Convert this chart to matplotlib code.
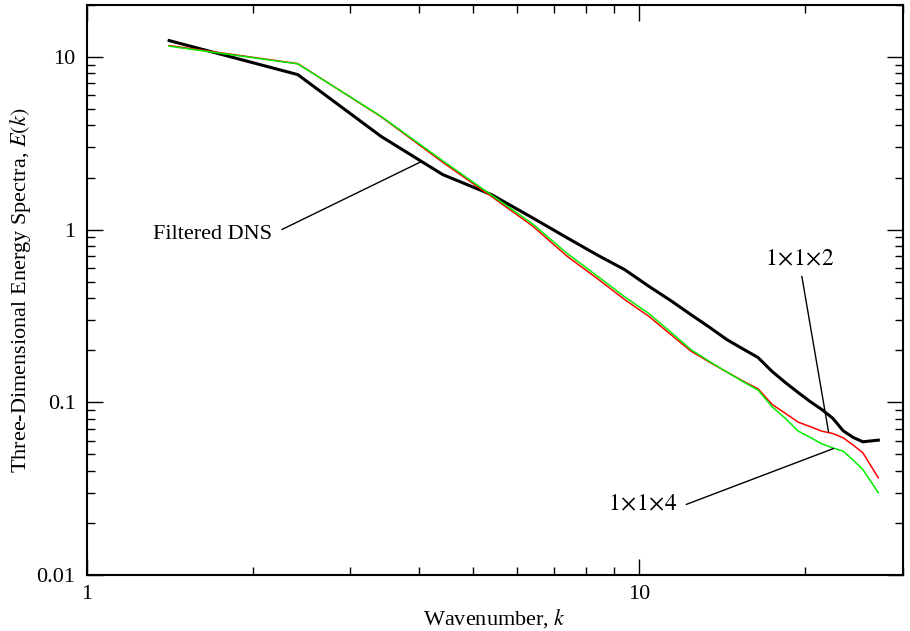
import numpy as np
import matplotlib
matplotlib.use("Agg")
from matplotlib import pyplot as plt
from matplotlib.ticker import FuncFormatter, NullFormatter, LogLocator

plt.rcParams['font.family'] = ['Liberation Serif', 'DejaVu Serif']
plt.rcParams['mathtext.fontset'] = 'stix'

# wavenumbers (shell centres)
k = [1.41, 2.41, 3.41, 4.41, 5.41, 6.41, 7.41, 8.41, 9.41, 10.41,
     11.41, 12.41, 13.41, 14.41, 15.41, 16.41, 17.41, 18.41, 19.41, 20.41,
     21.41, 22.41, 23.41, 24.41, 25.41, 27.1]

# filtered DNS
e_dns = [12.4, 7.88, 3.46, 2.08, 1.59, 1.17, 0.895, 0.711, 0.587, 0.47,
         0.388, 0.322, 0.272, 0.231, 0.204, 0.182, 0.151, 0.130, 0.114, 0.101,
         0.091, 0.081, 0.0685, 0.0627, 0.0592, 0.0605]
# 1x1x2
e_112 = [11.6, 9.12, 4.50, 2.45, 1.55, 1.05, 0.70, 0.519, 0.394, 0.315,
         0.247, 0.198, 0.171, 0.150, 0.133, 0.120, 0.0973, 0.0863, 0.0769, 0.0724,
         0.0682, 0.0661, 0.0624, 0.0566, 0.0511, 0.0366]
# 1x1x4
e_114 = [11.5, 9.09, 4.52, 2.50, 1.58, 1.08, 0.727, 0.537, 0.409, 0.327,
         0.255, 0.202, 0.1725, 0.150, 0.132, 0.118, 0.0943, 0.0807, 0.0682, 0.0627,
         0.0576, 0.0546, 0.0522, 0.0463, 0.0409, 0.030]

fig = plt.figure(figsize=(9.1, 6.31), dpi=100)
ax = fig.add_axes([0.0953, 0.0883, 0.8967, 0.9043])

ax.plot(k, e_dns, color='black', lw=2.2)
ax.plot(k, e_112, color='#ff0000', lw=1.1)
ax.plot(k, e_114, color='#00ee00', lw=1.1)

ax.set_xscale('log')
ax.set_yscale('log')
ax.set_xlim(1, 30)
ax.set_ylim(0.01, 20)

fmt = FuncFormatter(lambda v, p: '%g' % v)
ax.xaxis.set_major_formatter(fmt)
ax.yaxis.set_major_formatter(fmt)
ax.xaxis.set_minor_formatter(NullFormatter())
ax.yaxis.set_minor_formatter(NullFormatter())
ax.yaxis.set_major_locator(LogLocator(base=10, numticks=10))
ax.yaxis.set_minor_locator(LogLocator(base=10, subs=np.arange(2, 10), numticks=20))

ax.tick_params(which='both', direction='in', top=True, right=True, labelsize=16)
ax.tick_params(which='major', length=11.5, width=1)
ax.tick_params(which='minor', length=5.8, width=1)
ax.tick_params(axis='x', pad=7)
ax.tick_params(axis='y', pad=8)
for s in ax.spines.values():
    s.set_linewidth(1.5)

ax.set_xlabel('Wavenumber, $k$', fontsize=16, labelpad=2)
ax.set_ylabel('Three-Dimensional Energy Spectra, $E(k)$', fontsize=16)
ax.yaxis.set_label_coords(-0.066, 0.5)

# labels with leader lines
line = dict(arrowstyle='-', lw=1, color='black', shrinkA=0, shrinkB=0)
ax.text(1.686, 0.936, 'Filtered DNS', fontsize=16, ha='center', va='center')
ax.annotate('', xy=(4.03, 2.47), xytext=(2.255, 1.0), arrowprops=line)
ax.text(19.56, 0.67, r'$1\!\times\!1\!\times\!2$', fontsize=17, ha='center', va='center')
ax.annotate('', xy=(22.02, 0.0676), xytext=(19.7, 0.537), arrowprops=line)
ax.text(10.15, 0.0257, r'$1\!\times\!1\!\times\!4$', fontsize=17, ha='center', va='center')
ax.annotate('', xy=(22.48, 0.0541), xytext=(12.17, 0.0257), arrowprops=line)

fig.savefig('out.png', dpi=100)
